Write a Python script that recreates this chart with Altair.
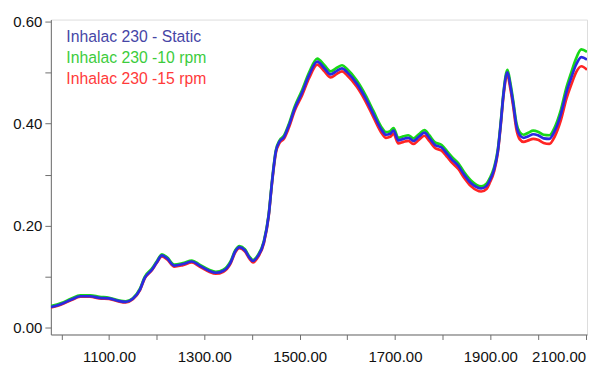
import altair as alt
import pandas as pd

wavelength = [978, 1000, 1020, 1040, 1060, 1080, 1100, 1120, 1135, 1150, 1165, 1175, 1190, 1200,
              1211, 1222, 1237, 1255, 1274, 1290, 1310, 1324, 1340, 1355, 1365, 1374, 1385, 1395,
              1402, 1412, 1425, 1435, 1442, 1450, 1458, 1467, 1477, 1490, 1505, 1520, 1537, 1552,
              1565, 1578, 1589, 1600, 1620, 1638, 1655, 1673, 1681, 1690, 1697, 1707, 1718, 1728,
              1739, 1750, 1762, 1772, 1784, 1798, 1810, 1819, 1833, 1845, 1860, 1881, 1892, 1899,
              1908, 1916, 1922, 1928, 1936, 1942, 1948, 1955, 1962, 1970, 1980, 1990, 2000, 2012,
              2024, 2035, 2048, 2060, 2070, 2080, 2091, 2103]

static = [0.041, 0.047, 0.055, 0.062, 0.062, 0.059, 0.058, 0.053, 0.051, 0.057, 0.075, 0.098, 0.114, 0.128,
          0.142, 0.136, 0.122, 0.125, 0.130, 0.122, 0.112, 0.108, 0.112, 0.128, 0.150, 0.158, 0.152, 0.137,
          0.131, 0.140, 0.168, 0.220, 0.285, 0.345, 0.365, 0.373, 0.395, 0.430, 0.460, 0.495, 0.521, 0.508,
          0.496, 0.503, 0.508, 0.500, 0.478, 0.450, 0.418, 0.386, 0.378, 0.380, 0.386, 0.367, 0.370, 0.372,
          0.366, 0.374, 0.382, 0.372, 0.358, 0.353, 0.340, 0.330, 0.317, 0.300, 0.283, 0.273, 0.278, 0.289,
          0.310, 0.347, 0.400, 0.460, 0.500, 0.475, 0.440, 0.395, 0.377, 0.372, 0.375, 0.379, 0.377, 0.371,
          0.370, 0.385, 0.418, 0.462, 0.490, 0.515, 0.530, 0.525]

rpm10 = [0.043, 0.049, 0.057, 0.064, 0.064, 0.061, 0.059, 0.054, 0.052, 0.058, 0.077, 0.100, 0.116, 0.130,
         0.144, 0.138, 0.124, 0.127, 0.132, 0.124, 0.114, 0.110, 0.114, 0.130, 0.152, 0.160, 0.154, 0.139,
         0.133, 0.142, 0.170, 0.222, 0.287, 0.347, 0.367, 0.376, 0.398, 0.434, 0.465, 0.500, 0.527, 0.514,
         0.502, 0.509, 0.514, 0.506, 0.484, 0.456, 0.424, 0.391, 0.383, 0.385, 0.391, 0.372, 0.375, 0.377,
         0.371, 0.379, 0.387, 0.377, 0.363, 0.358, 0.345, 0.335, 0.322, 0.305, 0.288, 0.277, 0.282, 0.293,
         0.314, 0.350, 0.403, 0.463, 0.505, 0.480, 0.445, 0.400, 0.383, 0.378, 0.382, 0.386, 0.384, 0.378,
         0.377, 0.392, 0.426, 0.471, 0.500, 0.527, 0.545, 0.540]

rpm15 = [0.040, 0.046, 0.054, 0.061, 0.061, 0.058, 0.057, 0.052, 0.050, 0.056, 0.074, 0.097, 0.113, 0.127,
         0.140, 0.134, 0.120, 0.123, 0.128, 0.120, 0.110, 0.106, 0.110, 0.126, 0.148, 0.156, 0.150, 0.135,
         0.128, 0.138, 0.166, 0.218, 0.283, 0.342, 0.362, 0.370, 0.391, 0.426, 0.455, 0.489, 0.515, 0.502,
         0.490, 0.497, 0.502, 0.494, 0.472, 0.444, 0.412, 0.380, 0.372, 0.374, 0.380, 0.361, 0.364, 0.366,
         0.360, 0.368, 0.376, 0.366, 0.352, 0.347, 0.334, 0.324, 0.311, 0.294, 0.277, 0.267, 0.272, 0.284,
         0.306, 0.344, 0.397, 0.456, 0.494, 0.469, 0.434, 0.388, 0.369, 0.364, 0.367, 0.370, 0.368, 0.362,
         0.360, 0.374, 0.406, 0.449, 0.476, 0.500, 0.512, 0.505]

series_names = ["Inhalac 230 - Static", "Inhalac 230 -10 rpm", "Inhalac 230 -15 rpm"]
line_colors = ["#2a2ae0", "#18d818", "#ff2424"]
text_colors = ["#4646a6", "#3ccc3c", "#ff3a3a"]

x_ticks = [1000, 1100, 1200, 1300, 1400, 1500, 1600, 1700, 1800, 1900, 2000, 2100]
y_ticks = [0.0, 0.1, 0.2, 0.3, 0.4, 0.5, 0.6]

FONT = "Liberation Sans"

x_scale = alt.Scale(domain=[978, 2103], nice=False, zero=False)
y_scale = alt.Scale(domain=[-0.0128, 0.6033], nice=False, zero=False)

x_axis = alt.Axis(values=x_ticks, title=None, grid=False, tickSize=5, tickColor="#6e6e6e",
                  domainColor="#6e6e6e", labelFont=FONT, labelFontSize=15, labelColor="#111111",
                  labelPadding=10, labelFlush=False, labelOverlap=False,
                  labelAlign={"condition": {"test": "datum.value >= 2100", "value": "right"},
                              "value": "center"},
                  labelExpr="datum.value % 200 == 100 ? format(datum.value, '.2f') : ''")
y_axis = alt.Axis(values=y_ticks, title=None, grid=False, tickSize=6, tickColor="#6e6e6e",
                  domainColor="#6e6e6e", labelFont=FONT, labelFontSize=15, labelColor="#111111",
                  labelPadding=3, labelFlush=False, labelOverlap=False,
                  labelExpr="round(datum.value * 10) % 2 == 0 ? format(datum.value, '.2f') : ''")


def line_layer(values, color):
    df = pd.DataFrame({"wavelength": wavelength, "value": values})
    return alt.Chart(df).mark_line(color=color, strokeWidth=2.7, interpolate="monotone", clip=True).encode(
        x=alt.X("wavelength:Q", scale=x_scale, axis=x_axis),
        y=alt.Y("value:Q", scale=y_scale, axis=y_axis),
    )


layers = [
    line_layer(rpm15, line_colors[2]),
    line_layer(rpm10, line_colors[1]),
    line_layer(static, line_colors[0]),
]

legend_y = [17, 39, 60]
for name, col, ly in zip(series_names, text_colors, legend_y):
    layers.append(
        alt.Chart(pd.DataFrame({"label": [name]})).mark_text(
            align="left", baseline="middle", font=FONT, fontSize=15.8, color=col
        ).encode(text="label:N", x=alt.value(15.5), y=alt.value(ly))
    )

chart = alt.layer(*layers).properties(
    width=538, height=316,
    autosize=alt.AutoSizeParams(type="none"),
    padding={"left": 43, "top": 11, "right": 6, "bottom": 33},
).configure_view(stroke="#7a7a7a", strokeWidth=1.2).configure(background="white")

chart.save("out.html", embed_options={"renderer": "svg", "actions": False})
